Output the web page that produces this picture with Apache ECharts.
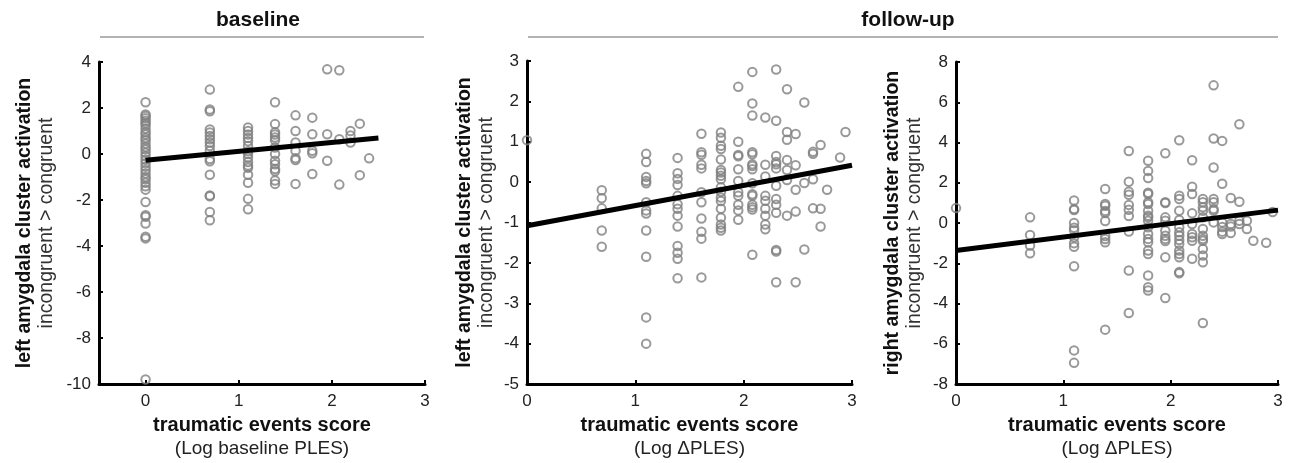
<!DOCTYPE html>
<html>
<head>
<meta charset="utf-8">
<script src="https://cdn.jsdelivr.net/npm/echarts@6/dist/echarts.min.js"></script>
<style>
  html, body { margin: 0; padding: 0; background: #fff; }
  #chart { width: 1295px; height: 463px; }
</style>
</head>
<body>
<div id="chart"></div>
<script>
// baseline panel: x columns (log PLES) and y values per column
var baseX = [0, 0.69, 1.1, 1.39, 1.61, 1.79, 1.95, 2.08, 2.2, 2.3, 2.4];
var baseY = [
  [2.25, 1.72, 1.65, 1.55, 1.45, 1.35, 1.25, 1.1, 0.95, 0.85, 0.7, 0.6, 0.45, 0.3, 0.2, 0.05, -0.1, -0.25, -0.4, -0.55, -0.7, -0.85, -1.0, -1.1, -1.25, -1.4, -1.55, -2.09, -2.66, -2.73, -3.02, -3.6, -3.67, -9.8],
  [2.8, 1.94, 1.86, 1.07, 0.93, 0.78, 0.64, 0.5, 0.35, 0.14, -0.22, -0.32, -0.9, -1.8, -1.84, -2.52, -2.88],
  [1.15, 1.0, 0.85, 0.7, 0.55, 0.35, 0.12, 0, -0.15, -0.35, -0.5, -0.6, -0.9, -1.25, -1.95, -2.4],
  [2.25, 1.3, 0.95, 0.85, 0.72, 0.6, 0.28, 0.0, -0.29, -0.45, -0.65, -0.75, -1.15, -1.3],
  [1.68, 1.0, 0.5, 0.14, -0.18, -0.26, -1.3],
  [1.58, 0.86, 0.14, 0.03, -0.87],
  [3.68, 0.86, -0.29],
  [3.64, 0.64, -1.33],
  [1.0, 0.8, 0.5],
  [1.32, -0.92],
  [-0.19]
];
var baseFitX = [0, 2.5];
var baseFitY = [-0.27, 0.7];

// follow-up, left amygdala
var leftX = [0, 0.69, 1.1, 1.39, 1.61, 1.79, 1.95, 2.08, 2.2, 2.3, 2.4, 2.48, 2.56, 2.64, 2.71, 2.77, 2.89, 2.94];
var leftY = [
  [1.04],
  [-0.2, -0.4, -0.65, -1.2, -1.6],
  [0.7, 0.5, 0.13, 0.03, -0.03, -0.5, -0.7, -0.78, -1.2, -1.85, -3.35, -4.0],
  [0.6, 0.22, 0.08, -0.07, -0.34, -0.55, -0.66, -0.83, -1.1, -1.58, -1.75, -1.9, -2.38],
  [1.2, 0.74, 0.68, 0.43, 0.34, -0.25, -0.5, -0.9, -1.23, -1.4, -2.36],
  [1.23, 1.1, 0.9, 0.82, 0.56, 0.3, 0.24, 0.16, 0.07, -0.13, -0.24, -0.38, -0.47, -0.66, -0.88, -1.05, -1.13, -1.2],
  [2.36, 1.0, 0.67, 0.64, 0.32, 0.03, -0.25, -0.34, -0.56, -0.7, -0.93],
  [2.73, 1.95, 1.65, 0.74, 0.69, 0.44, 0.4, 0.32, -0.03, -0.3, -0.34, -0.56, -0.62, -0.68, -1.8],
  [1.6, 0.43, 0.14, -0.34, -0.46, -0.66, -0.83, -1.05, -1.17],
  [2.79, 1.52, 0.65, 0.5, 0.44, 0.34, -0.09, -0.42, -0.56, -0.76, -1.68, -1.72, -2.48],
  [2.3, 1.24, 1.05, 0.55, 0.3, 0.05, -0.83],
  [1.19, 0.42, -0.19, -0.73, -2.48],
  [1.97, -0.02, -1.67],
  [0.75, 0.7, 0.07, -0.65],
  [0.92, -0.66, -1.1],
  [-0.19],
  [0.61],
  [1.24]
];
var leftFitX = [0, 3];
var leftFitY = [-1.08, 0.42];

// follow-up, right amygdala
var rightX = [0, 0.69, 1.1, 1.39, 1.61, 1.79, 1.95, 2.08, 2.2, 2.3, 2.4, 2.48, 2.56, 2.64, 2.71, 2.77, 2.89, 2.95];
var rightY = [
  [0.74],
  [0.28, -0.6, -1.12, -1.5],
  [1.12, 0.69, 0.64, 0.0, -0.23, -0.36, -0.71, -1.0, -1.18, -2.15, -6.33, -6.95],
  [1.69, 0.94, 0.86, 0.6, 0.5, 0.1, -0.65, -0.8, -0.96, -5.3],
  [3.58, 2.05, 1.55, 1.4, 0.9, 0.66, 0.35, -0.42, -2.36, -4.47],
  [3.09, 2.59, 2.23, 1.5, 1.44, 1.03, 0.94, 0.61, 0.36, 0.28, 0.11, -0.21, -0.55, -0.79, -0.96, -1.37, -1.54, -2.61, -3.19, -3.36],
  [3.47, 1.03, 0.99, 0.28, 0.11, -0.38, -0.63, -0.79, -0.9, -1.7, -3.73],
  [4.11, 1.36, 1.19, 0.61, 0.15, -0.21, -0.46, -0.63, -0.85, -1.04, -1.37, -1.54, -1.7, -2.44, -2.5],
  [3.12, 1.8, 1.44, 0.48, -0.05, -0.55, -0.71, -0.88, -1.78],
  [1.19, 1.03, 0.78, 0.61, 0.28, -0.3, -0.63, -0.79, -0.88, -1.29, -1.62, -1.95, -4.97],
  [6.84, 4.2, 2.76, 1.19, 1.03, 0.69, 0.61, 0.03],
  [4.08, 1.95, 0.03, -0.2, -0.43, -0.55],
  [1.24, -0.05, -0.18, -0.5],
  [4.91, 1.06, 0.11, -0.05],
  [0.11, -0.3],
  [-0.88],
  [-0.98],
  [0.55]
];
var rightFitX = [0, 3];
var rightFitY = [-1.37, 0.64];

var xTicks = [0, 1, 2, 3];

var FONT = 'Liberation Sans';
var CIRCLE = '#7f7f7f';

function toPoints(xs, ys) {
  var out = [];
  xs.forEach(function (x, i) {
    ys[i].forEach(function (y) { out.push([x, y]); });
  });
  return out;
}
function toLine(xs, ys) {
  return xs.map(function (x, i) { return [x, ys[i]]; });
}

function xAxisOf(idx, min, sub) {
  return {
    type: 'value', gridIndex: idx, min: min, max: 3,
    name: '{b|traumatic events score}\n{r|' + sub + '}',
    nameLocation: 'middle', nameGap: 30,
    nameTextStyle: {
      rich: {
        b: { fontFamily: FONT, fontWeight: 'bold', fontSize: 20, color: '#111', lineHeight: 23 },
        r: { fontFamily: FONT, fontSize: 19, color: '#222', lineHeight: 23 }
      }
    },
    axisLine: { show: true, onZero: false, lineStyle: { color: '#000', width: 3 } },
    axisTick: { show: true, inside: true, length: 4, customValues: xTicks, lineStyle: { color: '#000', width: 2 } },
    axisLabel: { customValues: xTicks, color: '#222', fontFamily: FONT, fontSize: 17, margin: 9 },
    splitLine: { show: false }
  };
}

function yAxisOf(idx, min, max, step, bold, gap) {
  return {
    type: 'value', gridIndex: idx, min: min, max: max, interval: step,
    name: '{b|' + bold + '}\n{r|incongruent > congruent}',
    nameLocation: 'middle', nameRotate: 90, nameGap: gap,
    nameTextStyle: {
      rich: {
        b: { fontFamily: FONT, fontWeight: 'bold', fontSize: 19.5, color: '#111', lineHeight: 22 },
        r: { fontFamily: FONT, fontSize: 19.5, color: '#333', lineHeight: 22 }
      }
    },
    axisLine: { show: true, onZero: false, lineStyle: { color: '#000', width: 3 } },
    axisTick: { show: true, inside: true, length: 4, lineStyle: { color: '#000', width: 2 } },
    axisLabel: { color: '#222', fontFamily: FONT, fontSize: 17, margin: 8, showMinLabel: true, showMaxLabel: true },
    splitLine: { show: false }
  };
}

function scatterOf(idx, pts) {
  return {
    type: 'scatter', xAxisIndex: idx, yAxisIndex: idx, data: pts,
    symbol: 'circle', symbolSize: 8.5,
    itemStyle: { color: 'rgba(0,0,0,0)', borderColor: CIRCLE, borderWidth: 2 },
    silent: true, z: 2
  };
}
function fitOf(idx, pts) {
  return {
    type: 'line', xAxisIndex: idx, yAxisIndex: idx, data: pts,
    showSymbol: false, symbol: 'none',
    lineStyle: { color: '#000', width: 5 }, silent: true, z: 3
  };
}

var grids = [
  { left: 99, top: 62, width: 326, height: 325 },
  { left: 527, top: 61, width: 325, height: 324 },
  { left: 956, top: 62, width: 322, height: 323 }
];

var dom = document.getElementById('chart');
var myChart = echarts.init(dom, null, { renderer: 'canvas' });

var option = {
  animation: false,
  backgroundColor: '#fff',
  title: [
    { text: 'baseline', left: 253, top: 5, textAlign: 'center',
      textStyle: { fontFamily: FONT, fontWeight: 'bold', fontSize: 21, color: '#111' } },
    { text: 'follow-up', left: 903, top: 5, textAlign: 'center',
      textStyle: { fontFamily: FONT, fontWeight: 'bold', fontSize: 21, color: '#111' } }
  ],
  graphic: [
    { type: 'line', shape: { x1: grids[0].left + 1, y1: 37, x2: grids[0].left + grids[0].width - 1, y2: 37 },
      style: { stroke: '#b3b3b3', lineWidth: 2 } },
    { type: 'line', shape: { x1: grids[1].left + 1, y1: 37, x2: grids[2].left + grids[2].width, y2: 37 },
      style: { stroke: '#b3b3b3', lineWidth: 2 } }
  ],
  grid: grids,
  xAxis: [
    xAxisOf(0, -0.5, '(Log baseline PLES)'),
    xAxisOf(1, 0, '(Log \u0394PLES)'),
    xAxisOf(2, 0, '(Log \u0394PLES)')
  ],
  yAxis: [
    yAxisOf(0, -10, 4, 2, 'left amygdala cluster activation', 41),
    yAxisOf(1, -5, 3, 1, 'left amygdala cluster activation', 29),
    yAxisOf(2, -8, 8, 2, 'right amygdala cluster activation', 30)
  ],
  series: [
    scatterOf(0, toPoints(baseX, baseY)),
    fitOf(0, toLine(baseFitX, baseFitY)),
    scatterOf(1, toPoints(leftX, leftY)),
    fitOf(1, toLine(leftFitX, leftFitY)),
    scatterOf(2, toPoints(rightX, rightY)),
    fitOf(2, toLine(rightFitX, rightFitY))
  ]
};

myChart.setOption(option);
window.addEventListener('resize', myChart.resize);
</script>
</body>
</html>
